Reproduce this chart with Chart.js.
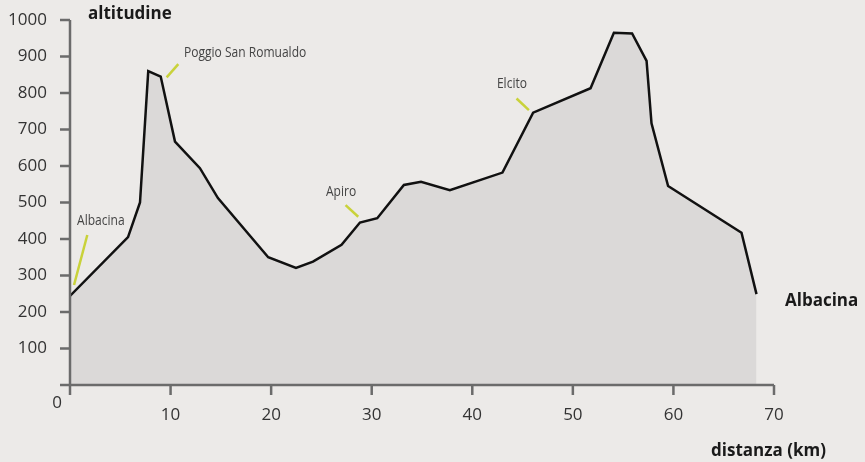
<!DOCTYPE html>
<html>
<head>
<meta charset="utf-8">
<script src="https://cdn.jsdelivr.net/npm/chart.js@4.4.1/dist/chart.umd.min.js"></script>
<style>
  html, body { margin: 0; padding: 0; background: #eceae8; }
  #wrap { width: 865px; height: 462px; position: relative; }
</style>
</head>
<body>
<div id="wrap"><canvas id="profile" width="865" height="462"></canvas></div>
<script>
  // profilo altimetrico: distanza (km) / altitudine (m)
  var distKm = [0, 5.77, 6.96, 7.78, 9.02, 10.44, 12.92, 14.71, 19.71, 22.47, 24.16, 27.0, 28.83, 30.55,
    33.2, 34.9, 37.77, 43.0, 46.05, 51.76, 54.08, 55.89, 57.33, 57.82, 59.47, 66.77, 68.26];
  var altM = [244, 405, 500, 860, 845, 667, 594, 512, 350, 321, 338, 384, 445, 457,
    548, 557, 534, 582, 746, 813, 965, 963, 888, 717, 545, 417, 249];

  var xTicks = [10, 20, 30, 40, 50, 60, 70];
  var yTicks = [100, 200, 300, 400, 500, 600, 700, 800, 900, 1000];

  var placeNames = ["Poggio San Romualdo", "Albacina", "Apiro", "Elcito"];
  var placeKm = [11.33, 0.7, 25.45, 42.45];
  var placeAlt = [909, 449, 529, 825];
  // trattini gialli: [km1, alt1, km2, alt2]
  var placeMarks = [
    [9.61, 843, 10.77, 879],
    [0.4, 274, 1.72, 411],
    [27.4, 493, 28.66, 461],
    [44.4, 785, 45.63, 753]
  ];

  var AXIS = "#6b6b6b";
  var TXT = "#333333";

  var axesPlugin = {
    id: "axes",
    beforeDraw: function (chart) {
      var c = chart.ctx;
      c.save();
      c.fillStyle = "#eceae8";
      c.fillRect(0, 0, chart.width, chart.height);
      c.restore();
    },
    afterDatasetsDraw: function (chart) {
      var c = chart.ctx;
      var xs = chart.scales.x, ys = chart.scales.y;
      var x0 = xs.getPixelForValue(0), y0 = ys.getPixelForValue(0);
      var xEnd = xs.getPixelForValue(70), yTop = ys.getPixelForValue(1000);

      c.save();
      c.strokeStyle = AXIS;
      c.lineWidth = 2.5;
      c.beginPath();
      c.moveTo(x0, yTop);
      c.lineTo(x0, y0 + 10);
      c.moveTo(x0 - 10, y0);
      c.lineTo(xEnd, y0);
      xTicks.forEach(function (t) {
        var px = xs.getPixelForValue(t);
        c.moveTo(px, y0);
        c.lineTo(px, y0 + 10);
      });
      yTicks.forEach(function (t) {
        var py = ys.getPixelForValue(t);
        c.moveTo(x0 - 10, py);
        c.lineTo(x0, py);
      });
      c.stroke();

      c.fillStyle = TXT;
      c.font = "17px 'Open Sans'";
      c.textBaseline = "middle";
      c.textAlign = "right";
      yTicks.forEach(function (t) {
        c.fillText(String(t), x0 - 23, ys.getPixelForValue(t));
      });
      c.fillText("0", x0 - 8, y0 + 18);
      c.textAlign = "center";
      xTicks.forEach(function (t) {
        c.fillText(String(t), xs.getPixelForValue(t), y0 + 30);
      });

      c.fillStyle = "#1a1a1a";
      c.font = "bold 17px 'Open Sans'";
      c.textAlign = "left";
      c.fillText("altitudine", x0 + 18, yTop - 6);
      c.fillText("Albacina", 785, ys.getPixelForValue(230));
      c.fillText("distanza (km)", 711, 451);

      // località (carattere stretto)
      c.font = "14px 'Open Sans'";
      c.fillStyle = "#444444";
      placeNames.forEach(function (name, i) {
        var px = xs.getPixelForValue(placeKm[i]), py = ys.getPixelForValue(placeAlt[i]);
        c.save();
        c.translate(px, py);
        c.scale(0.86, 1);
        c.fillText(name, 0, 0);
        c.restore();
      });
      c.strokeStyle = "#c9d23a";
      c.lineWidth = 2.5;
      placeMarks.forEach(function (m) {
        c.beginPath();
        c.moveTo(xs.getPixelForValue(m[0]), ys.getPixelForValue(m[1]));
        c.lineTo(xs.getPixelForValue(m[2]), ys.getPixelForValue(m[3]));
        c.stroke();
      });
      c.restore();
    }
  };

  new Chart(document.getElementById("profile"), {
    type: "line",
    data: {
      datasets: [
        {
          data: distKm.map(function (d, i) {
            return { x: d, y: altM[i] };
          }),
          borderColor: "#111111",
          borderWidth: 2.5,
          backgroundColor: "#dbd9d8",
          fill: "origin",
          tension: 0,
          pointRadius: 0,
          borderJoinStyle: "miter"
        }
      ]
    },
    options: {
      responsive: false,
      animation: false,
      layout: { padding: { left: 70, right: 91, top: 20, bottom: 77 } },
      plugins: { legend: { display: false }, tooltip: { enabled: false } },
      scales: {
        x: { type: "linear", min: 0, max: 70, display: false },
        y: { min: 0, max: 1000, display: false }
      }
    },
    plugins: [axesPlugin]
  });
</script>
</body>
</html>
